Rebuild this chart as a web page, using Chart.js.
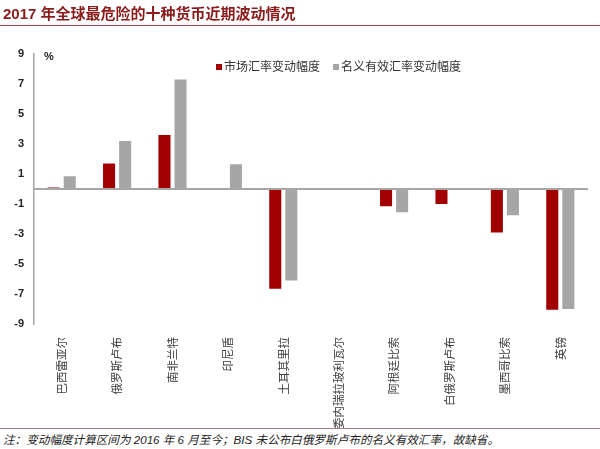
<!DOCTYPE html>
<html>
<head>
<meta charset="utf-8">
<script src="https://cdn.jsdelivr.net/npm/chart.js@4"></script>
<style>
  body { margin: 0; background: #fff; }
  #wrap { position: relative; width: 600px; height: 449px; overflow: hidden; font-family: "Liberation Sans", "Noto Sans CJK SC", sans-serif; }
  #chart { position: absolute; left: 0; top: 0; }
  .title { position: absolute; left: 3px; top: 5px; font-size: 15px; font-weight: bold; color: #8B1C1C; font-family: "Liberation Sans", "Noto Sans CJK SC", sans-serif; line-height: 18px; }
  .title-rule { position: absolute; left: 0; top: 25px; width: 600px; height: 0; border-top: 1.5px solid #A0434A; }
  .unit { position: absolute; left: 44px; top: 50px; font-size: 11px; font-weight: bold; color: #222; }
  .legend { position: absolute; top: 58px; font-size: 12px; color: #333; font-family: "Noto Sans CJK SC", sans-serif; line-height: 16px; white-space: nowrap; }
  .legend i { display: inline-block; width: 6px; height: 6px; margin-right: 2px; vertical-align: 1px; }
  .foot { position: absolute; left: 0; top: 428px; width: 600px; height: 21px; background: #fff; border-top: 1.5px solid #A87C88; }
  .foot span { position: absolute; left: 3px; top: 2px; font-size: 11.6px; font-style: italic; color: #222; font-family: "Liberation Sans", "Noto Sans CJK SC", sans-serif; white-space: nowrap; }
</style>
</head>
<body>
<div id="wrap">
  <canvas id="chart" width="600" height="449"></canvas>
  <div class="title">2017 年全球最危险的十种货币近期波动情况</div>
  <div class="title-rule"></div>
  <div class="unit">%</div>
  <div class="legend" style="left:216px"><i style="background:#A00000"></i>市场汇率变动幅度</div>
  <div class="legend" style="left:333px"><i style="background:#A6A6A6"></i>名义有效汇率变动幅度</div>
  <div class="foot"><span>注：变动幅度计算区间为 2016 年 6 月至今；BIS 未公布白俄罗斯卢布的名义有效汇率，故缺省。</span></div>
</div>
<script>
// 数据
const currencies = ["巴西雷亚尔", "俄罗斯卢布", "南非兰特", "印尼盾", "土耳其里拉", "委内瑞拉玻利瓦尔", "阿根廷比索", "白俄罗斯卢布", "墨西哥比索", "英镑"];
const marketRate = [0.1, 1.7, 3.6, null, -6.65, null, -1.15, -1.0, -2.9, -8.05];
const effectiveRate = [0.85, 3.2, 7.3, 1.65, -6.1, null, -1.55, null, -1.75, -8.0];
const yTicks = [-9, -7, -5, -3, -1, 1, 3, 5, 7, 9];

// 0 轴线
const zeroLine = {
  id: "zeroLine",
  afterDatasetsDraw(chart) {
    const { ctx, chartArea, scales } = chart;
    const y = scales.y.getPixelForValue(0);
    ctx.save();
    ctx.strokeStyle = "#A6A6A6";
    ctx.lineWidth = 2;
    ctx.beginPath();
    ctx.moveTo(chartArea.left, y);
    ctx.lineTo(chartArea.right, y);
    ctx.stroke();
    ctx.restore();
  },
};

new Chart(document.getElementById("chart"), {
  type: "bar",
  data: {
    labels: currencies,
    datasets: [
      {
        label: "市场汇率变动幅度",
        data: marketRate,
        backgroundColor: "#A00000",
        barPercentage: 0.75,
        categoryPercentage: 0.58,
      },
      {
        label: "名义有效汇率变动幅度",
        data: effectiveRate,
        backgroundColor: "#A6A6A6",
        barPercentage: 0.75,
        categoryPercentage: 0.58,
      },
    ],
  },
  options: {
    responsive: false,
    animation: false,
    layout: {
      padding: { left: 0, right: 12, top: 54, bottom: 0 },
    },
    plugins: {
      legend: { display: false },
      title: { display: false },
      tooltip: { enabled: false },
    },
    scales: {
      x: {
        grid: { display: false, drawTicks: false },
        border: { display: false },
        ticks: {
          autoSkip: false,
          maxRotation: 90,
          minRotation: 90,
          padding: 13,
          color: "#404040",
          font: { family: "'Noto Sans CJK SC', sans-serif", size: 11.5 },
        },
        afterFit(scale) {
          scale.height = 125;
        },
      },
      y: {
        min: -9,
        max: 9,
        grid: { display: false, drawTicks: false },
        border: { display: true, color: "#A6A6A6", width: 1.5 },
        afterBuildTicks(scale) {
          scale.ticks = yTicks.map((v) => ({ value: v }));
        },
        ticks: {
          padding: 10,
          color: "#222",
          font: { family: "'Liberation Sans', sans-serif", size: 11, weight: "bold" },
        },
        afterFit(scale) {
          scale.width = 34;
        },
      },
    },
  },
  plugins: [zeroLine],
});
</script>
</body>
</html>
